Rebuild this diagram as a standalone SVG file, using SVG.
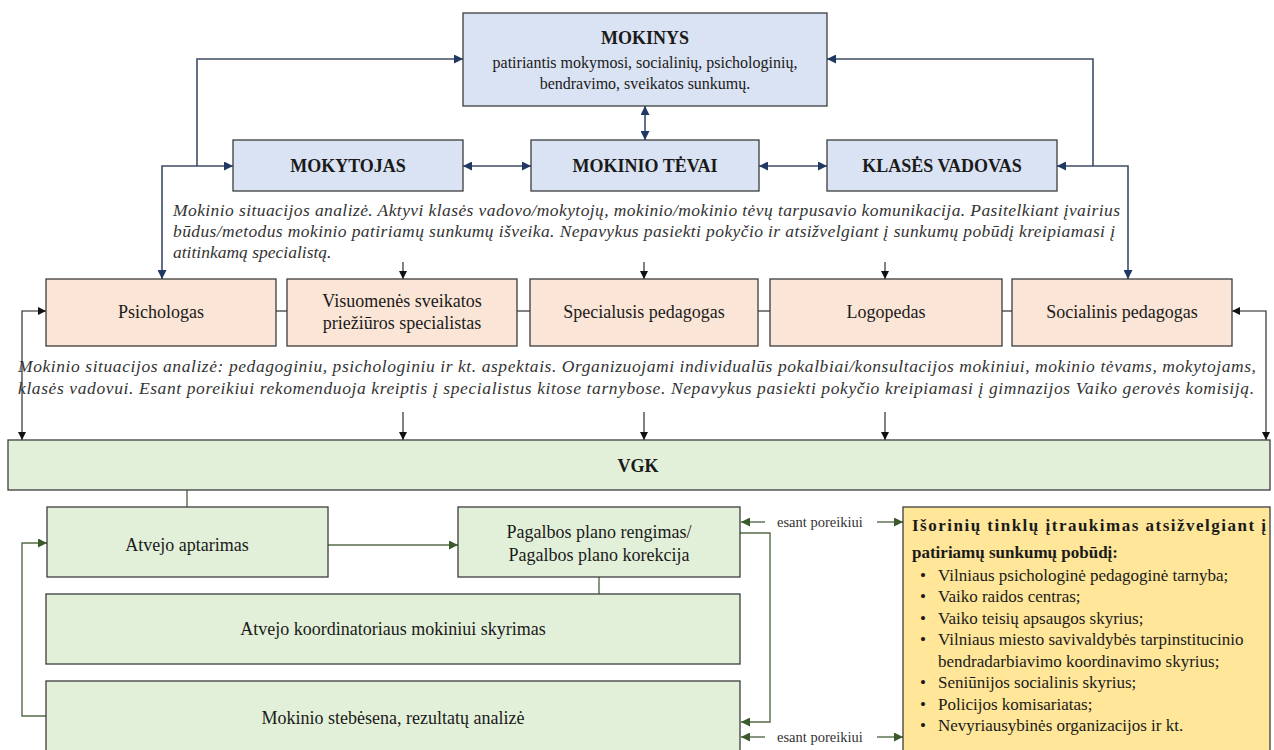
<svg xmlns="http://www.w3.org/2000/svg" width="1274" height="750" viewBox="0 0 1274 750">
<style>
  text { font-family: "Liberation Serif", "Times New Roman", serif; fill: #1a1a1a; }
  .t { font-size: 18px; text-anchor: middle; }
  .b { font-weight: bold; }
  .s { font-size: 16px; text-anchor: middle; }
  .it { font-size: 17.5px; font-style: italic; fill: #333; }
  .sm { font-size: 14.5px; fill: #333; }
  .bl { font-size: 17px; }
  .blue { fill: #dae3f3; stroke: #3c3c3c; stroke-width: 1.3; }
  .pink { fill: #fbe5d6; stroke: #3c3c3c; stroke-width: 1.3; }
  .green { fill: #e2f0d9; stroke: #3c3c3c; stroke-width: 1.3; }
  .yel { fill: #ffe699; stroke: #3c3c3c; stroke-width: 1.3; }
  .cb { fill: none; stroke: #3e4d66; stroke-width: 1.6; }
  .ck { fill: none; stroke: #1a1a1a; stroke-width: 1.1; }
  .cg { fill: none; stroke: #556b48; stroke-width: 1.4; }
</style>
<defs>
  <marker id="ab" viewBox="0 0 10 10" refX="10" refY="5" markerWidth="9" markerHeight="9" markerUnits="userSpaceOnUse" orient="auto-start-reverse">
    <path d="M0,0 L10,5 L0,10 z" fill="#1f3864"/>
  </marker>
  <marker id="ak" viewBox="0 0 10 10" refX="10" refY="5" markerWidth="8" markerHeight="8" markerUnits="userSpaceOnUse" orient="auto-start-reverse">
    <path d="M0,0 L10,5 L0,10 z" fill="#111"/>
  </marker>
  <marker id="ag" viewBox="0 0 10 10" refX="10" refY="5" markerWidth="9" markerHeight="9" markerUnits="userSpaceOnUse" orient="auto-start-reverse">
    <path d="M0,0 L10,5 L0,10 z" fill="#3b5a2c"/>
  </marker>
</defs>

<g id="connectors">
  <line class="cb" x1="645" y1="106" x2="645" y2="140" marker-start="url(#ab)" marker-end="url(#ab)"/>
  <line class="cb" x1="463" y1="166" x2="531" y2="166" marker-start="url(#ab)" marker-end="url(#ab)"/>
  <line class="cb" x1="759" y1="166" x2="827" y2="166" marker-start="url(#ab)" marker-end="url(#ab)"/>
  <path class="cb" d="M197,166 V59 H463" marker-end="url(#ab)"/>
  <path class="cb" d="M162,279 V166 H233" marker-start="url(#ab)" marker-end="url(#ab)"/>
  <path class="cb" d="M1093,166 V59 H827" marker-end="url(#ab)"/>
  <path class="cb" d="M1128,279 V166 H1057" marker-start="url(#ab)" marker-end="url(#ab)"/>

  <line class="ck" x1="403" y1="262" x2="403" y2="279" marker-end="url(#ak)"/>
  <line class="ck" x1="644" y1="262" x2="644" y2="279" marker-end="url(#ak)"/>
  <line class="ck" x1="885" y1="262" x2="885" y2="279" marker-end="url(#ak)"/>

  <line class="ck" x1="276" y1="311" x2="287" y2="311"/>
  <line class="ck" x1="517" y1="311" x2="530" y2="311"/>
  <line class="ck" x1="758" y1="311" x2="770" y2="311"/>
  <line class="ck" x1="1002" y1="311" x2="1012" y2="311"/>

  <path class="ck" d="M46,311 H22 V440" marker-start="url(#ak)" marker-end="url(#ak)"/>
  <path class="ck" d="M1232,311 H1266 V440" marker-start="url(#ak)" marker-end="url(#ak)"/>

  <line class="ck" x1="403" y1="412" x2="403" y2="440" marker-end="url(#ak)"/>
  <line class="ck" x1="644" y1="412" x2="644" y2="440" marker-end="url(#ak)"/>
  <line class="ck" x1="885" y1="412" x2="885" y2="440" marker-end="url(#ak)"/>

  <line class="cg" x1="187" y1="490" x2="187" y2="507"/>
  <line class="cg" x1="599" y1="577" x2="599" y2="594"/>
  <line class="cg" x1="328" y1="545" x2="458" y2="545" marker-end="url(#ag)"/>
  <path class="cg" d="M46,716 H22 V543 H47" marker-end="url(#ag)"/>
  <path class="cg" d="M740,533 H770 V722 H741" marker-end="url(#ag)"/>
  <line class="cg" x1="765" y1="522" x2="741" y2="522" marker-end="url(#ag)"/>
  <line class="cg" x1="877" y1="522" x2="903" y2="522" marker-end="url(#ag)"/>
  <line class="cg" x1="765" y1="737" x2="741" y2="737" marker-end="url(#ag)"/>
  <line class="cg" x1="877" y1="737" x2="903" y2="737" marker-end="url(#ag)"/>
</g>

<g id="mokinys">
  <rect class="blue" x="463" y="13" width="364" height="93"/>
  <text class="t b" x="645" y="44">MOKINYS</text>
  <text class="s" x="645" y="68">patiriantis mokymosi, socialinių, psichologinių,</text>
  <text class="s" x="645" y="89">bendravimo, sveikatos sunkumų.</text>
</g>
<g id="mokytojas">
  <rect class="blue" x="233" y="140" width="230" height="51"/>
  <text class="t b" x="348" y="172">MOKYTOJAS</text>
</g>
<g id="tevai">
  <rect class="blue" x="531" y="140" width="228" height="51"/>
  <text class="t b" x="645" y="172">MOKINIO TĖVAI</text>
</g>
<g id="klases-vadovas">
  <rect class="blue" x="827" y="140" width="230" height="51"/>
  <text class="t b" x="942" y="172">KLASĖS VADOVAS</text>
</g>

<g id="text-1">
  <text class="it" x="173" y="216" textLength="947" lengthAdjust="spacing">Mokinio situacijos analizė. Aktyvi klasės vadovo/mokytojų, mokinio/mokinio tėvų tarpusavio komunikacija. Pasitelkiant įvairius</text>
  <text class="it" x="173" y="237" textLength="942" lengthAdjust="spacing">būdus/metodus mokinio patiriamų sunkumų išveika. Nepavykus pasiekti pokyčio ir atsižvelgiant į sunkumų pobūdį kreipiamasi į</text>
  <text class="it" x="173" y="258">atitinkamą specialistą.</text>
</g>

<g id="psichologas">
  <rect class="pink" x="46" y="279" width="230" height="67"/>
  <text class="t" x="161" y="318">Psichologas</text>
</g>
<g id="visuomenes">
  <rect class="pink" x="287" y="279" width="230" height="67"/>
  <text class="t" x="402" y="307">Visuomenės  sveikatos</text>
  <text class="t" x="402" y="329">priežiūros  specialistas</text>
</g>
<g id="specialusis">
  <rect class="pink" x="530" y="279" width="228" height="67"/>
  <text class="t" x="644" y="318">Specialusis  pedagogas</text>
</g>
<g id="logopedas">
  <rect class="pink" x="770" y="279" width="232" height="67"/>
  <text class="t" x="886" y="318">Logopedas</text>
</g>
<g id="socialinis">
  <rect class="pink" x="1012" y="279" width="220" height="67"/>
  <text class="t" x="1122" y="318">Socialinis  pedagogas</text>
</g>

<g id="text-2">
  <text class="it" x="18" y="372" textLength="1238" lengthAdjust="spacing">Mokinio situacijos analizė: pedagoginiu, psichologiniu ir kt. aspektais. Organizuojami individualūs pokalbiai/konsultacijos mokiniui, mokinio tėvams, mokytojams,</text>
  <text class="it" x="18" y="394" textLength="1236" lengthAdjust="spacing">klasės vadovui. Esant poreikiui rekomenduoja kreiptis į specialistus kitose tarnybose. Nepavykus pasiekti pokyčio kreipiamasi į  gimnazijos Vaiko gerovės komisiją.</text>
</g>

<g id="vgk">
  <rect class="green" x="8" y="440" width="1262" height="50"/>
  <text class="t b" x="638" y="472">VGK</text>
</g>
<g id="atvejo-aptarimas">
  <rect class="green" x="47" y="507" width="281" height="70"/>
  <text class="t" x="187" y="551">Atvejo  aptarimas</text>
</g>
<g id="pagalbos-planas">
  <rect class="green" x="458" y="507" width="282" height="70"/>
  <text class="t" x="599" y="538">Pagalbos  plano  rengimas/</text>
  <text class="t" x="599" y="561">Pagalbos  plano  korekcija</text>
</g>
<g id="koordinatorius">
  <rect class="green" x="46" y="594" width="694" height="70"/>
  <text class="t" x="393" y="635">Atvejo  koordinatoriaus  mokiniui  skyrimas</text>
</g>
<g id="stebesena">
  <rect class="green" x="46" y="681" width="694" height="75"/>
  <text class="t" x="393" y="724">Mokinio  stebėsena,  rezultatų  analizė</text>
</g>

<g id="esant-poreikiui">
  <text class="sm" x="777" y="527">esant poreikiui</text>
  <text class="sm" x="777" y="742">esant poreikiui</text>
</g>

<g id="isoriniai-tinklai">
  <rect class="yel" x="903" y="507" width="367" height="250"/>
  <text class="bl b" x="912" y="531" textLength="354" lengthAdjust="spacing">Išorinių tinklų įtraukimas atsižvelgiant į</text>
  <text class="bl b" x="912" y="558">patiriamų  sunkumų  pobūdį:</text>
  <text class="bl" x="920" y="581">•</text><text class="bl" x="938" y="581">Vilniaus psichologinė  pedagoginė  tarnyba;</text>
  <text class="bl" x="920" y="602">•</text><text class="bl" x="938" y="602">Vaiko raidos centras;</text>
  <text class="bl" x="920" y="624">•</text><text class="bl" x="938" y="624">Vaiko teisių apsaugos skyrius;</text>
  <text class="bl" x="920" y="645">•</text><text class="bl" x="938" y="645">Vilniaus miesto savivaldybės tarpinstitucinio</text>
  <text class="bl" x="938" y="667">bendradarbiavimo koordinavimo  skyrius;</text>
  <text class="bl" x="920" y="688">•</text><text class="bl" x="938" y="688">Seniūnijos  socialinis  skyrius;</text>
  <text class="bl" x="920" y="710">•</text><text class="bl" x="938" y="710">Policijos  komisariatas;</text>
  <text class="bl" x="920" y="731">•</text><text class="bl" x="938" y="731">Nevyriausybinės organizacijos ir kt.</text>
</g>
</svg>
